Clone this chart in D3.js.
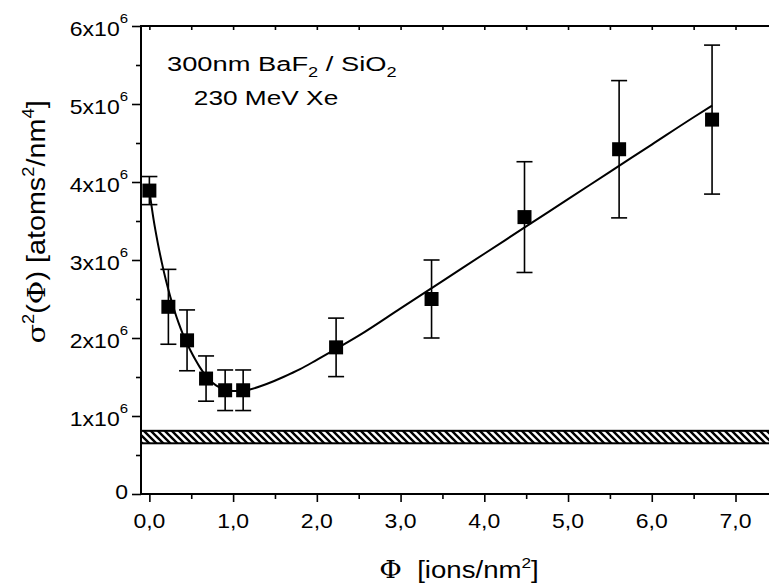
<!DOCTYPE html>
<html><head><meta charset="utf-8">
<script src="https://cdn.jsdelivr.net/npm/d3@7"></script>
<style>
html,body{margin:0;padding:0;background:#fff;}
svg{display:block;}
text{font-family:"Liberation Sans",Arial,sans-serif;fill:#000;}
</style></head>
<body><div id="chart"></div>
<script>
// ---- data ----
const phi      = [0, 0.227, 0.45, 0.677, 0.905, 1.12, 2.23, 3.37, 4.48, 5.61, 6.72];
const sigma2   = [3.89e6, 2.40e6, 1.97e6, 1.48e6, 1.33e6, 1.33e6, 1.88e6, 2.50e6, 3.55e6, 4.42e6, 4.80e6];
const sigmaErr = [0.18e6, 0.48e6, 0.39e6, 0.29e6, 0.26e6, 0.26e6, 0.375e6, 0.50e6, 0.71e6, 0.88e6, 0.955e6];
const fitPhi   = [0, 0.05, 0.1, 0.15, 0.2, 0.25, 0.3, 0.35, 0.4, 0.45, 0.5, 0.55, 0.6, 0.65, 0.7, 0.8, 0.9, 1.0, 1.1, 1.2, 1.4, 1.6, 1.8, 2.0, 2.23, 2.5, 3.0, 3.5, 4.0, 4.5, 5.0, 5.5, 6.0, 6.5, 6.72];
const fitSigma2= [3.89e6, 3.52e6, 3.22e6, 2.96e6, 2.73e6, 2.53e6, 2.35e6, 2.19e6, 2.05e6, 1.93e6, 1.82e6, 1.72e6, 1.63e6, 1.55e6, 1.48e6, 1.39e6, 1.34e6, 1.32e6, 1.32e6, 1.34e6, 1.41e6, 1.50e6, 1.60e6, 1.72e6, 1.86e6, 2.03e6, 2.38e6, 2.73e6, 3.08e6, 3.43e6, 3.78e6, 4.13e6, 4.48e6, 4.83e6, 4.98e6];
const bandLow  = 0.65e6;
const bandHigh = 0.81e6;
const xTicks      = [0, 1, 2, 3, 4, 5, 6, 7];
const xTickLabels = ["0,0", "1,0", "2,0", "3,0", "4,0", "5,0", "6,0", "7,0"];
const yTicks      = [0, 1e6, 2e6, 3e6, 4e6, 5e6, 6e6];
const yTickLabels = ["0", "1x10", "2x10", "3x10", "4x10", "5x10", "6x10"];
const yTickExp    = ["", "6", "6", "6", "6", "6", "6"];

// ---- layout ----
const W = 769, H = 584;
const L = 141, R = 769, T = 26, B = 494;
const SX = 1.15; // horizontal text stretch

const svg = d3.select("#chart").append("svg").attr("width", W).attr("height", H);

const x = d3.scaleLinear().domain([-0.1, 7.4]).range([L, R]);
const y = d3.scaleLinear().domain([0, 6e6]).range([B, T]);

// hatch pattern
const defs = svg.append("defs");
const pat = defs.append("pattern").attr("id", "hatch").attr("patternUnits", "userSpaceOnUse")
  .attr("width", 7).attr("height", 7);
pat.append("path").attr("d", "M-1,-1 L8,8 M-1,6 L1,8 M6,-1 L8,1")
  .attr("stroke", "#000").attr("stroke-width", 2.4).attr("fill", "none");

// band
svg.append("rect")
  .attr("x", L).attr("y", y(bandHigh))
  .attr("width", R - L + 2).attr("height", y(bandLow) - y(bandHigh))
  .attr("fill", "url(#hatch)").attr("stroke", "#000").attr("stroke-width", 2);

// axes
const xMinor = d3.range(0, 7.5, 0.5).filter(v => !xTicks.includes(v));
const yMinor = d3.range(0.5e6, 6e6, 1e6);

const axB = svg.append("g").attr("transform", `translate(0,${B})`)
  .call(d3.axisBottom(x).tickValues(xTicks).tickSize(8).tickFormat(""));
const axBm = svg.append("g").attr("transform", `translate(0,${B})`)
  .call(d3.axisBottom(x).tickValues(xMinor).tickSize(5).tickFormat(""));
const axT = svg.append("g").attr("transform", `translate(0,${T})`)
  .call(d3.axisBottom(x).tickValues(d3.range(0, 7.5, 0.5)).tickSize(4).tickFormat(""));
const axL = svg.append("g").attr("transform", `translate(${L},0)`)
  .call(d3.axisLeft(y).tickValues(yTicks).tickSize(9).tickFormat(""));
const axLm = svg.append("g").attr("transform", `translate(${L},0)`)
  .call(d3.axisLeft(y).tickValues(yMinor).tickSize(5).tickFormat(""));
[axB, axBm, axT, axL, axLm].forEach(g => {
  g.select(".domain").remove();
  g.selectAll(".tick line").attr("stroke", "#000").attr("stroke-width", 1.6);
});
svg.append("line").attr("x1", L).attr("x2", R).attr("y1", B).attr("y2", B).attr("stroke", "#000").attr("stroke-width", 2);
svg.append("line").attr("x1", L).attr("x2", R).attr("y1", T).attr("y2", T).attr("stroke", "#000").attr("stroke-width", 2);
svg.append("line").attr("x1", L).attr("x2", L).attr("y1", T - 1).attr("y2", B + 1).attr("stroke", "#000").attr("stroke-width", 2);

// text helper with horizontal stretch
function stext(px, py, anchor, size, sx) {
  return svg.append("g").attr("transform", `translate(${px},${py}) scale(${sx || SX},1)`)
    .append("text").attr("text-anchor", anchor).attr("font-size", size);
}

// x tick labels
xTicks.forEach((v, i) => {
  stext(x(v), 528, "middle", 20).text(xTickLabels[i]);
});
// y tick labels
yTicks.forEach((v, i) => {
  const t = stext(128, y(v) + (yTickExp[i] ? 10 : 5), "end", 20);
  t.append("tspan").text(yTickLabels[i]);
  if (yTickExp[i]) t.append("tspan").attr("dy", -13).attr("font-size", 13).text(yTickExp[i]);
});

// axis titles
{
  const t = stext(459, 578, "middle", 24);
  t.append("tspan").attr("font-family", "DejaVu Serif").text("\u03A6");
  t.append("tspan").text("\u00A0 [ions/nm");
  t.append("tspan").attr("dy", -10).attr("font-size", 15).text("2");
  t.append("tspan").attr("dy", 10).text("]");
}
{
  const g = svg.append("g").attr("transform", `translate(45,222) rotate(-90) scale(${SX},1)`);
  const t = g.append("text").attr("text-anchor", "middle").attr("font-size", 25);
  t.append("tspan").attr("font-family", "DejaVu Serif").text("\u03C3");
  t.append("tspan").attr("dy", -11).attr("font-size", 16).text("2");
  t.append("tspan").attr("dy", 11).text("(");
  t.append("tspan").attr("font-family", "DejaVu Serif").text("\u03A6");
  t.append("tspan").text(") [atoms");
  t.append("tspan").attr("dy", -11).attr("font-size", 16).text("2");
  t.append("tspan").attr("dy", 11).text("/nm");
  t.append("tspan").attr("dy", -11).attr("font-size", 16).text("4");
  t.append("tspan").attr("dy", 11).text("]");
}

// annotation
{
  const t = stext(167, 71, "start", 21, 1.3);
  t.append("tspan").text("300nm BaF");
  t.append("tspan").attr("dy", 6).attr("font-size", 14).text("2");
  t.append("tspan").attr("dy", -6).text(" / SiO");
  t.append("tspan").attr("dy", 6).attr("font-size", 14).text("2");
  stext(266, 105, "middle", 21, 1.25).text("230 MeV Xe");
}

// fit curve
const fit = fitPhi.map((p, i) => [p, fitSigma2[i]]);
svg.append("path").datum(fit)
  .attr("d", d3.line().x(d => x(d[0])).y(d => y(d[1])).curve(d3.curveMonotoneX))
  .attr("fill", "none").attr("stroke", "#000").attr("stroke-width", 2);

// error bars
const pts = phi.map((p, i) => ({p, v: sigma2[i], e: sigmaErr[i]}));
const eb = svg.append("g").selectAll("g").data(pts).join("g");
eb.append("line").attr("x1", d => x(d.p)).attr("x2", d => x(d.p))
  .attr("y1", d => y(d.v + d.e)).attr("y2", d => y(d.v - d.e))
  .attr("stroke", "#000").attr("stroke-width", 1.6);
eb.append("line").attr("x1", d => x(d.p) - 8).attr("x2", d => x(d.p) + 8)
  .attr("y1", d => y(d.v + d.e)).attr("y2", d => y(d.v + d.e))
  .attr("stroke", "#000").attr("stroke-width", 1.6);
eb.append("line").attr("x1", d => x(d.p) - 8).attr("x2", d => x(d.p) + 8)
  .attr("y1", d => y(d.v - d.e)).attr("y2", d => y(d.v - d.e))
  .attr("stroke", "#000").attr("stroke-width", 1.6);
// squares
svg.append("g").selectAll("rect").data(pts).join("rect")
  .attr("x", d => x(d.p) - 7).attr("y", d => y(d.v) - 7)
  .attr("width", 14).attr("height", 14).attr("fill", "#000");
</script>
</body></html>
